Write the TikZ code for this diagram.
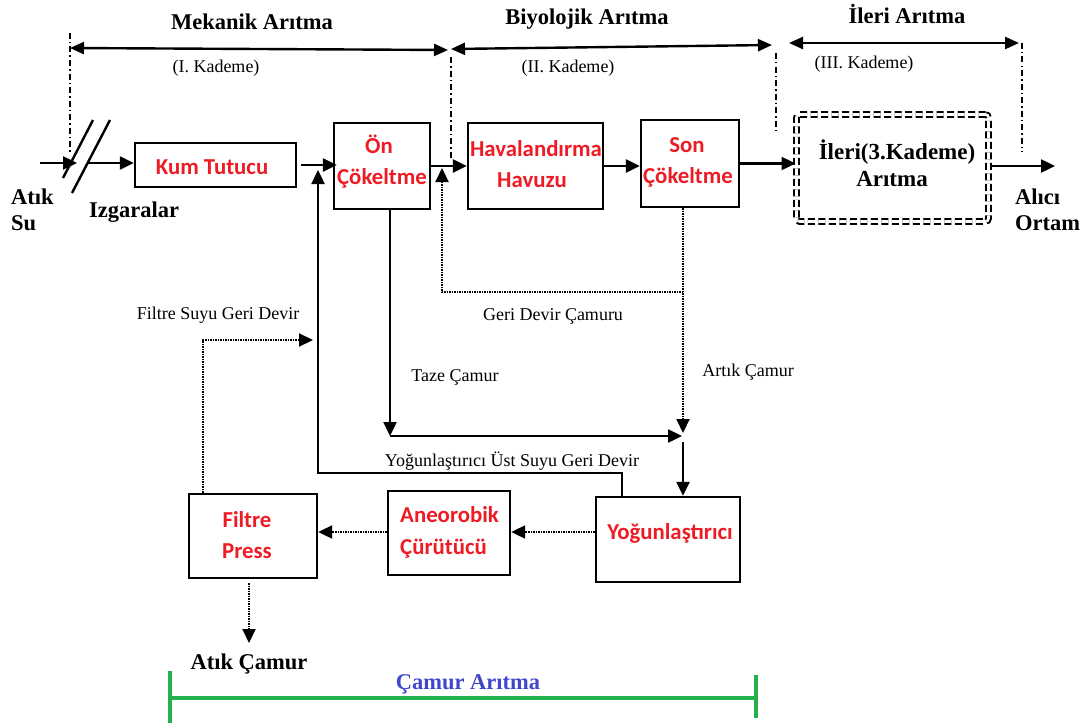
\documentclass[tikz,border=0pt]{standalone}
\usepackage{fontspec}
\setmainfont{Liberation Serif}
\newfontfamily\redfont{Carlito}
\usetikzlibrary{arrows.meta}
\definecolor{redtxt}{RGB}{237,28,36}
\definecolor{bluetxt}{RGB}{63,72,204}
\definecolor{greenln}{RGB}{34,177,76}
\begin{document}
\begin{tikzpicture}[x=1pt,y=-1pt,
  box/.style={draw, line width=2.4pt, inner sep=0pt},
  arr/.style={line width=2.4pt, -{Triangle[length=14pt,width=13pt]}},
  darr/.style={line width=2.1pt, dash pattern=on 1.4pt off 1.1pt, -{Triangle[length=14pt,width=13pt]}},
  dimarr/.style={line width=2.4pt, {Triangle[length=14pt,width=12pt]}-{Triangle[length=14pt,width=12pt]}},
  dashdot/.style={line width=2pt, dash pattern=on 6pt off 3pt on 1.5pt off 3pt},
  lbl/.style={anchor=base, inner sep=0pt, font=\fontsize{18}{20}\selectfont},
  hdr/.style={anchor=base, inner sep=0pt, font=\fontsize{22.5}{24}\selectfont\bfseries},
  rtxt/.style={anchor=base, inner sep=0pt, text=redtxt, font=\fontsize{22.8}{26}\redfont\bfseries},
  grn/.style={draw=greenln, line width=3.4pt}
]
\useasboundingbox (0,0) rectangle (1086,725);

% ---- boxes ----
\node[box, minimum width=161pt, minimum height=44pt] (kum) at (215.5,165) {};
\node[box, minimum width=96pt, minimum height=86pt] (on) at (382,166) {};
\node[box, minimum width=135pt, minimum height=86pt] (hav) at (535.5,166) {};
\node[box, minimum width=98pt, minimum height=87pt] (son) at (690,163.5) {};
\node[draw, line width=2pt, double=white, double distance=2.6pt, dash pattern=on 7pt off 3.5pt, rounded corners=3pt, minimum width=192pt, minimum height=107pt] (ileri) at (892.5,168) {};
\node[box, minimum width=144pt, minimum height=85pt] (yog) at (668,539.5) {};
\node[box, minimum width=122pt, minimum height=84pt] (ane) at (449,533) {};
\node[box, minimum width=128pt, minimum height=84pt] (fil) at (253,536) {};

% ---- texts in boxes ----
\node[rtxt] (tkum) at (212,174) {Kum Tutucu};
\node[rtxt] (ton1) at (379,153) {Ön};
\node[rtxt] (ton2) at (382,184) {Çökeltme};
\node[rtxt] (thav1) at (536,156) {Havalandırma};
\node[rtxt] (thav2) at (532,187) {Havuzu};
\node[rtxt] (tson1) at (687,152) {Son};
\node[rtxt] (tson2) at (688,183) {Çökeltme};
\node[rtxt] (tyog) at (670,539) {Yoğunlaştırıcı};
\node[rtxt] (tfil1) at (247,527) {Filtre};
\node[rtxt] (tfil2) at (247,558) {Press};
\node[rtxt, anchor=base west] (tane1) at (400,522) {Aneorobik};
\node[rtxt, anchor=base west] (tane2) at (400,554) {Çürütücü};
\node[hdr, font=\fontsize{23}{24}\selectfont\bfseries] (tile1) at (897,159) {İleri(3.Kademe)};
\node[hdr, font=\fontsize{23}{24}\selectfont\bfseries] (tile2) at (892,186) {Arıtma};

% ---- headers ----
\node[hdr] (hmek) at (252,30) {Mekanik Arıtma};
\node[hdr] (hbiy) at (587,25) {Biyolojik Arıtma};
\node[hdr] (hile) at (907,24) {İleri Arıtma};
\node[lbl] (k1) at (216,73) {(I. Kademe)};
\node[lbl] (k2) at (568,73) {(II. Kademe)};
\node[lbl] (k3) at (864,68) {(III. Kademe)};

% ---- outer labels ----
\node[hdr, anchor=base west] (atik1) at (11,204) {Atık};
\node[hdr, anchor=base west] (atik2) at (11,230) {Su};
\node[hdr] (izg) at (134,217) {Izgaralar};
\node[hdr, anchor=base west] (alici1) at (1015,204) {Alıcı};
\node[hdr, anchor=base west] (alici2) at (1015,230) {Ortam};
\node[hdr] (atikc) at (249,669) {Atık Çamur};
\node[hdr, text=bluetxt] (camar) at (468,689) {Çamur Arıtma};
\node[lbl] (lgdc) at (553,320) {Geri Devir Çamuru};
\node[lbl] (ltaze) at (455,381) {Taze Çamur};
\node[lbl] (lartik) at (748,376) {Artık Çamur};
\node[lbl] (lfsgd) at (218,319) {Filtre Suyu Geri Devir};
\node[lbl] (lyog) at (512,466) {Yoğunlaştırıcı Üst Suyu Geri Devir};

% ---- coordinates ----
\coordinate (in0) at (40,163);
\coordinate (scr) at (77,163);
\coordinate (scr2) at (88,163);
\coordinate (outc) at (1055,166);
\coordinate (lp1) at (318,473);
\coordinate (lp2) at (318,170);
\coordinate (tz1) at (390,436);
\coordinate (tz2) at (682,436);
\coordinate (ar1) at (683,292);
\coordinate (ar2) at (683,433);
\coordinate (ar3) at (683,442);
\coordinate (gd) at (442,168);
\coordinate (fs) at (313,340);
\coordinate (ac) at (249,643);
\coordinate (m1) at (70,48);
\coordinate (m2) at (448,50);
\coordinate (b1) at (451,49);
\coordinate (b2) at (772,45);
\coordinate (i1) at (789,43);
\coordinate (i2) at (1019,43);
\coordinate (d1a) at (70,33);   \coordinate (d1b) at (70,153);
\coordinate (d2a) at (451,57);  \coordinate (d2b) at (451,158);
\coordinate (d3a) at (776,53);  \coordinate (d3b) at (776,133);
\coordinate (d4a) at (1022,43); \coordinate (d4b) at (1022,152);
\coordinate (s1a) at (93,120);  \coordinate (s1b) at (63,178);
\coordinate (s2a) at (110,120); \coordinate (s2b) at (72,193);
\coordinate (g1) at (170,698);  \coordinate (g2) at (756,698);
\coordinate (g1a) at (170,671); \coordinate (g1b) at (170,723);
\coordinate (g2a) at (756,675); \coordinate (g2b) at (756,718);

% ---- top dimension arrows ----
\draw[dimarr] (m1) -- (m2);
\draw[dimarr] (b1) -- (b2);
\draw[dimarr] (i1) -- (i2);
\draw[dashdot] (d1a) -- (d1b);
\draw[dashdot] (d2a) -- (d2b);
\draw[dashdot] (d3a) -- (d3b);
\draw[dashdot] (d4a) -- (d4b);

% ---- screens ----
\draw[line width=2.4pt] (s1a) -- (s1b);
\draw[line width=2.4pt] (s2a) -- (s2b);

% ---- main flow ----
\draw[arr] (in0) -- (scr);
\draw[arr] (scr2) -- (scr2 -| kum.west);
\draw[arr] ([xshift=4pt]kum.east) -- ([xshift=4pt]kum.east -| on.west);
\draw[arr] (on.east) -- (on.east -| hav.west);
\draw[arr] (hav.east) -- (hav.east -| son.west);
\draw[arr] (son.east) -- (son.east -| ileri.west);
\draw[arr] ([yshift=2pt]ileri.east) -- (outc);

% ---- sludge lines ----
\draw[arr] ([xshift=-46pt]yog.north) |- (lp1) -- (lp2);
\draw[arr] ([xshift=8pt]on.south) -- (tz1);
\draw[arr] (tz1) -- (tz2);
\draw[darr] ([xshift=-7pt]son.south) -- (ar2);
\draw[darr] (ar1) -| (gd);
\draw[arr] (ar3) -- (ar3 |- yog.north);
\draw[darr] ([yshift=7.5pt]yog.west) -- ([yshift=7.5pt]yog.west -| ane.east);
\draw[darr] ([yshift=1pt]ane.west) -- ([yshift=1pt]ane.west -| fil.east);
\draw[darr] ([xshift=-50pt]fil.north) |- (fs);
\draw[darr] ([xshift=-4pt,yshift=-4pt]fil.south) -- (ac);

% ---- green bracket ----
\draw[grn] (g1) -- (g2);
\draw[grn] (g1a) -- (g1b);
\draw[grn] (g2a) -- (g2b);
\end{tikzpicture}
\end{document}
